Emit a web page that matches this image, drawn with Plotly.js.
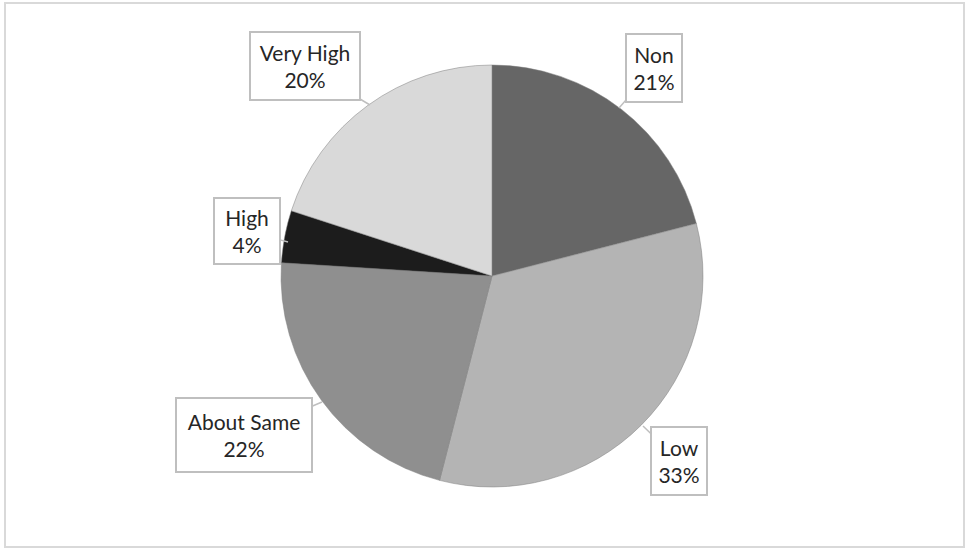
<!DOCTYPE html>
<html>
<head>
<meta charset="utf-8">
<script src="https://cdn.plot.ly/plotly-3.0.1.min.js"></script>
<style>
  html, body { margin: 0; padding: 0; background: #ffffff; }
  #chart { width: 967px; height: 550px; }
</style>
</head>
<body>
<div id="chart"></div>
<script>
// Share of responses by level
const categories = ["Non", "Low", "About Same", "High", "Very High"];
const shares = [21, 33, 22, 4, 20];
const sliceColors = ["#666666", "#b4b4b4", "#8f8f8f", "#1c1c1c", "#d9d9d9"];

const W = 967, H = 550;
const cx = 492, cy = 276, r = 211;

// Callout placement for each category: arrow tip and box offset (pixels)
const callouts = {
  "Non":        { tip: [619, 108], ax: 35,  ay: -40, w: 52,  h: 64 },
  "Low":        { tip: [643, 426], ax: 36,  ay: 35,  w: 52,  h: 64 },
  "About Same": { tip: [322, 402], ax: -78, ay: 33,  w: 132, h: 70 },
  "High":       { tip: [288, 242], ax: -41, ay: -11, w: 62,  h: 62 },
  "Very High":  { tip: [370, 105], ax: -65, ay: -39, w: 106, h: 64 }
};

const total = shares.reduce((a, b) => a + b, 0);

const trace = {
  type: "pie",
  labels: categories,
  values: shares,
  sort: false,
  direction: "clockwise",
  rotation: 0,
  textinfo: "none",
  hoverinfo: "label+percent",
  marker: { colors: sliceColors, line: { color: "#7f7f7f", width: 0.5 } },
  domain: {
    x: [(cx - r) / W, (cx + r) / W],
    y: [1 - (cy + r) / H, 1 - (cy - r) / H]
  },
  showlegend: false
};

const annotations = categories.map((c, i) => {
  const co = callouts[c];
  const pct = Math.round(shares[i] / total * 100);
  return {
    xref: "paper", yref: "paper",
    x: co.tip[0] / W, y: 1 - co.tip[1] / H,
    ax: co.ax, ay: co.ay,
    text: c + "<br>" + pct + "%",
    showarrow: true, arrowhead: 0, arrowwidth: 1.5, arrowcolor: "#bfbfbf",
    bordercolor: "#bfbfbf", borderwidth: 2, borderpad: 1,
    bgcolor: "#ffffff",
    width: co.w, height: co.h,
    align: "center", valign: "middle",
    font: { family: "Lato, 'Open Sans', sans-serif", size: 21, color: "#262626" }
  };
});

const layout = {
  width: W, height: H,
  margin: { l: 0, r: 0, t: 0, b: 0 },
  paper_bgcolor: "#ffffff",
  annotations: annotations,
  shapes: [{
    type: "rect", xref: "paper", yref: "paper",
    x0: 5 / W, x1: 964 / W, y0: 1 - 547 / H, y1: 1 - 3 / H,
    line: { color: "#d9d9d9", width: 2 }, fillcolor: "rgba(0,0,0,0)", layer: "below"
  }]
};

Plotly.newPlot("chart", [trace], layout, { displayModeBar: false, staticPlot: true });
</script>
</body>
</html>
